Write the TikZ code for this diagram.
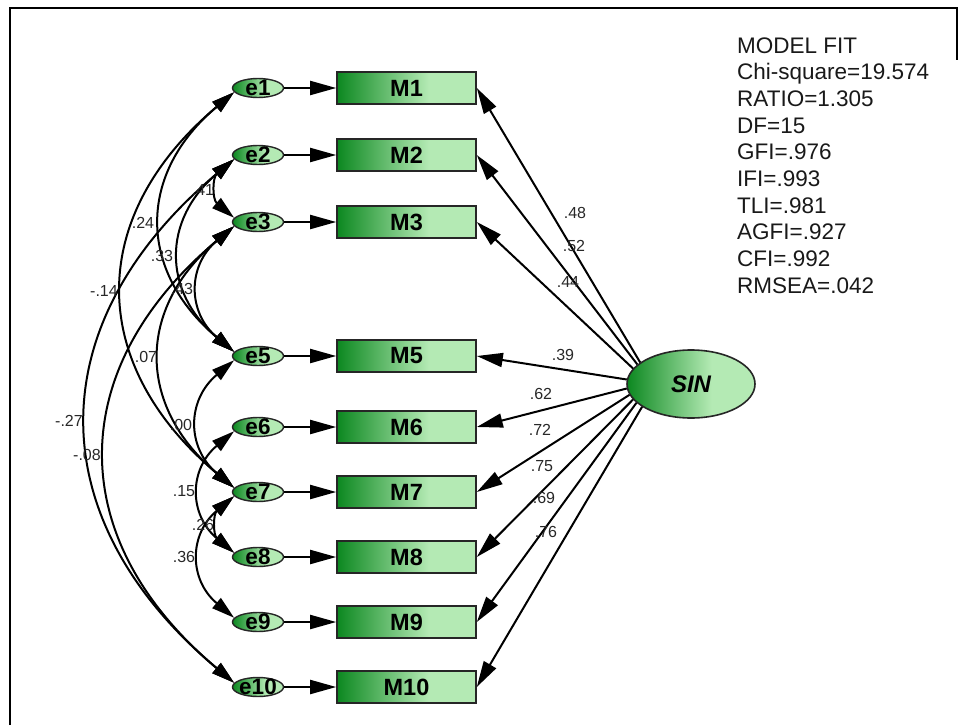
\documentclass[tikz,border=0pt]{standalone}
\usepackage{fontspec}
\setmainfont{Liberation Sans}
\usetikzlibrary{arrows.meta,shapes.geometric}
\definecolor{dkg}{RGB}{12,136,32}
\definecolor{ltg}{RGB}{180,234,180}
\definecolor{lblc}{RGB}{40,40,40}
\pgfdeclarehorizontalshading{gshade}{100bp}{color(0bp)=(dkg); color(25bp)=(dkg); color(58bp)=(ltg); color(100bp)=(ltg)}
\begin{document}
\begin{tikzpicture}[x=1pt,y=-1pt,
  evar/.style={ellipse,draw=black!85,line width=1.4pt,shade,shading=gshade,minimum width=51pt,minimum height=19pt,inner sep=0pt},
  elab/.style={font=\fontsize{22.5}{24}\selectfont\bfseries,text=black,inner sep=0pt},
  mbox/.style={rectangle,draw=black!85,line width=1.6pt,shade,shading=gshade,minimum width=139pt,minimum height=32pt,inner sep=0pt,font=\fontsize{23.5}{25}\selectfont\bfseries},
  lat/.style={ellipse,draw=black!85,line width=1.6pt,shade,shading=gshade,minimum width=128pt,minimum height=68pt,inner sep=0pt,font=\fontsize{24}{26}\selectfont\bfseries\itshape},
  arr/.style={-{Triangle[length=26pt,width=14pt]},line width=2pt},
  cov/.style={{Triangle[length=23pt,width=13pt]}-{Triangle[length=23pt,width=13pt]},line width=2pt},
  lbl/.style={font=\fontsize{16}{17}\selectfont,text=lblc,inner sep=0pt},
  fitt/.style={font=\fontsize{22.5}{24}\selectfont,anchor=base west,inner sep=0pt,text=black!90}
]
\useasboundingbox (0,0) rectangle (960,725);
\fill[white] (0,0) rectangle (960,725);
% frame
\draw[line width=2.5pt] (10,725) -- (10,8) -- (957,8) -- (957,60);

% error ellipses and indicators
\foreach \n/\y in {1/88,2/155,3/222,5/356,6/427,7/492,8/557,9/622,10/687}{
  \node[evar] (e\n) at (258,\y) {};
  \node[mbox] (M\n) at (406.5,\y) {M\n};
  \node[elab] (e\n t) at (e\n) {e\n};
  \draw[arr] (e\n.east) -- (M\n.west);
}

% latent
\node[lat] (SIN) at (691,384) {SIN};

% loadings
\draw[arr] (SIN.157) -- (M1.east);
\draw[arr] (SIN.160) -- (M2.east);
\draw[arr] (SIN.165) -- (M3.east);
\draw[arr] (SIN.176) -- (M5.east);
\draw[arr] (SIN.184) -- (M6.east);
\draw[arr] (SIN.190) -- (M7.east);
\draw[arr] (SIN.195) -- (M8.east);
\draw[arr] (SIN.199) -- (M9.east);
\draw[arr] (SIN.205) -- (M10.east);

\node[lbl] (l1) at (575,213) {.48};
\node[lbl] (l2) at (574,246) {.52};
\node[lbl] (l3) at (568,282) {.44};
\node[lbl] (l5) at (563,355) {.39};
\node[lbl] (l6) at (541,394) {.62};
\node[lbl] (l7) at (540,430) {.72};
\node[lbl] (l8) at (542,466) {.75};
\node[lbl] (l9) at (544,498) {.69};
\node[lbl] (l10) at (546,532) {.76};

% covariances
\draw[cov] (e2.190) to[out=-140,in=140,looseness=1.25] (e3.170);
\draw[cov] (e1.190) to[out=-140,in=140,looseness=1.25] (e5.170);
\draw[cov] (e2.190) to[out=-140,in=140,looseness=1.25] (e5.170);
\draw[cov] (e1.190) to[out=-140,in=140,looseness=1.25] (e7.170);
\draw[cov] (e3.190) to[out=-140,in=140,looseness=1.25] (e5.170);
\draw[cov] (e3.190) to[out=-140,in=140,looseness=1.25] (e7.170);
\draw[cov] (e2.190) to[out=-140,in=140,looseness=1.25] (e10.170);
\draw[cov] (e3.190) to[out=-140,in=140,looseness=1.25] (e10.170);
\draw[cov] (e5.190) to[out=-140,in=140,looseness=1.25] (e7.170);
\draw[cov] (e6.190) to[out=-140,in=140,looseness=1.25] (e8.170);
\draw[cov] (e7.190) to[out=-140,in=140,looseness=1.25] (e8.170);
\draw[cov] (e7.190) to[out=-140,in=140,looseness=1.25] (e9.170);

\node[lbl] (c1) at (203,190) {.41};
\node[lbl] (c2) at (143,223) {.24};
\node[lbl] (c3) at (162,256) {.33};
\node[lbl] (c4) at (104,291) {-.14};
\node[lbl] (c5) at (182,289) {.43};
\node[lbl] (c6) at (146,357) {.07};
\node[lbl] (c7) at (69,421) {-.27};
\node[lbl] (c8) at (87,455) {-.08};
\node[lbl] (c9) at (181,425) {.00};
\node[lbl] (c10) at (184,491) {.15};
\node[lbl] (c11) at (203,525) {.26};
\node[lbl] (c12) at (184,557) {.36};

% model fit
\node[fitt] (f1) at (737,53) {MODEL FIT};
\node[fitt] (f2) at (737,79.7) {Chi-square=19.574};
\node[fitt] (f3) at (737,106.3) {RATIO=1.305};
\node[fitt] (f4) at (737,133) {DF=15};
\node[fitt] (f5) at (737,159.7) {GFI=.976};
\node[fitt] (f6) at (737,186.3) {IFI=.993};
\node[fitt] (f7) at (737,213) {TLI=.981};
\node[fitt] (f8) at (737,239.7) {AGFI=.927};
\node[fitt] (f9) at (737,266.3) {CFI=.992};
\node[fitt] (f10) at (737,293) {RMSEA=.042};
\end{tikzpicture}
\end{document}
